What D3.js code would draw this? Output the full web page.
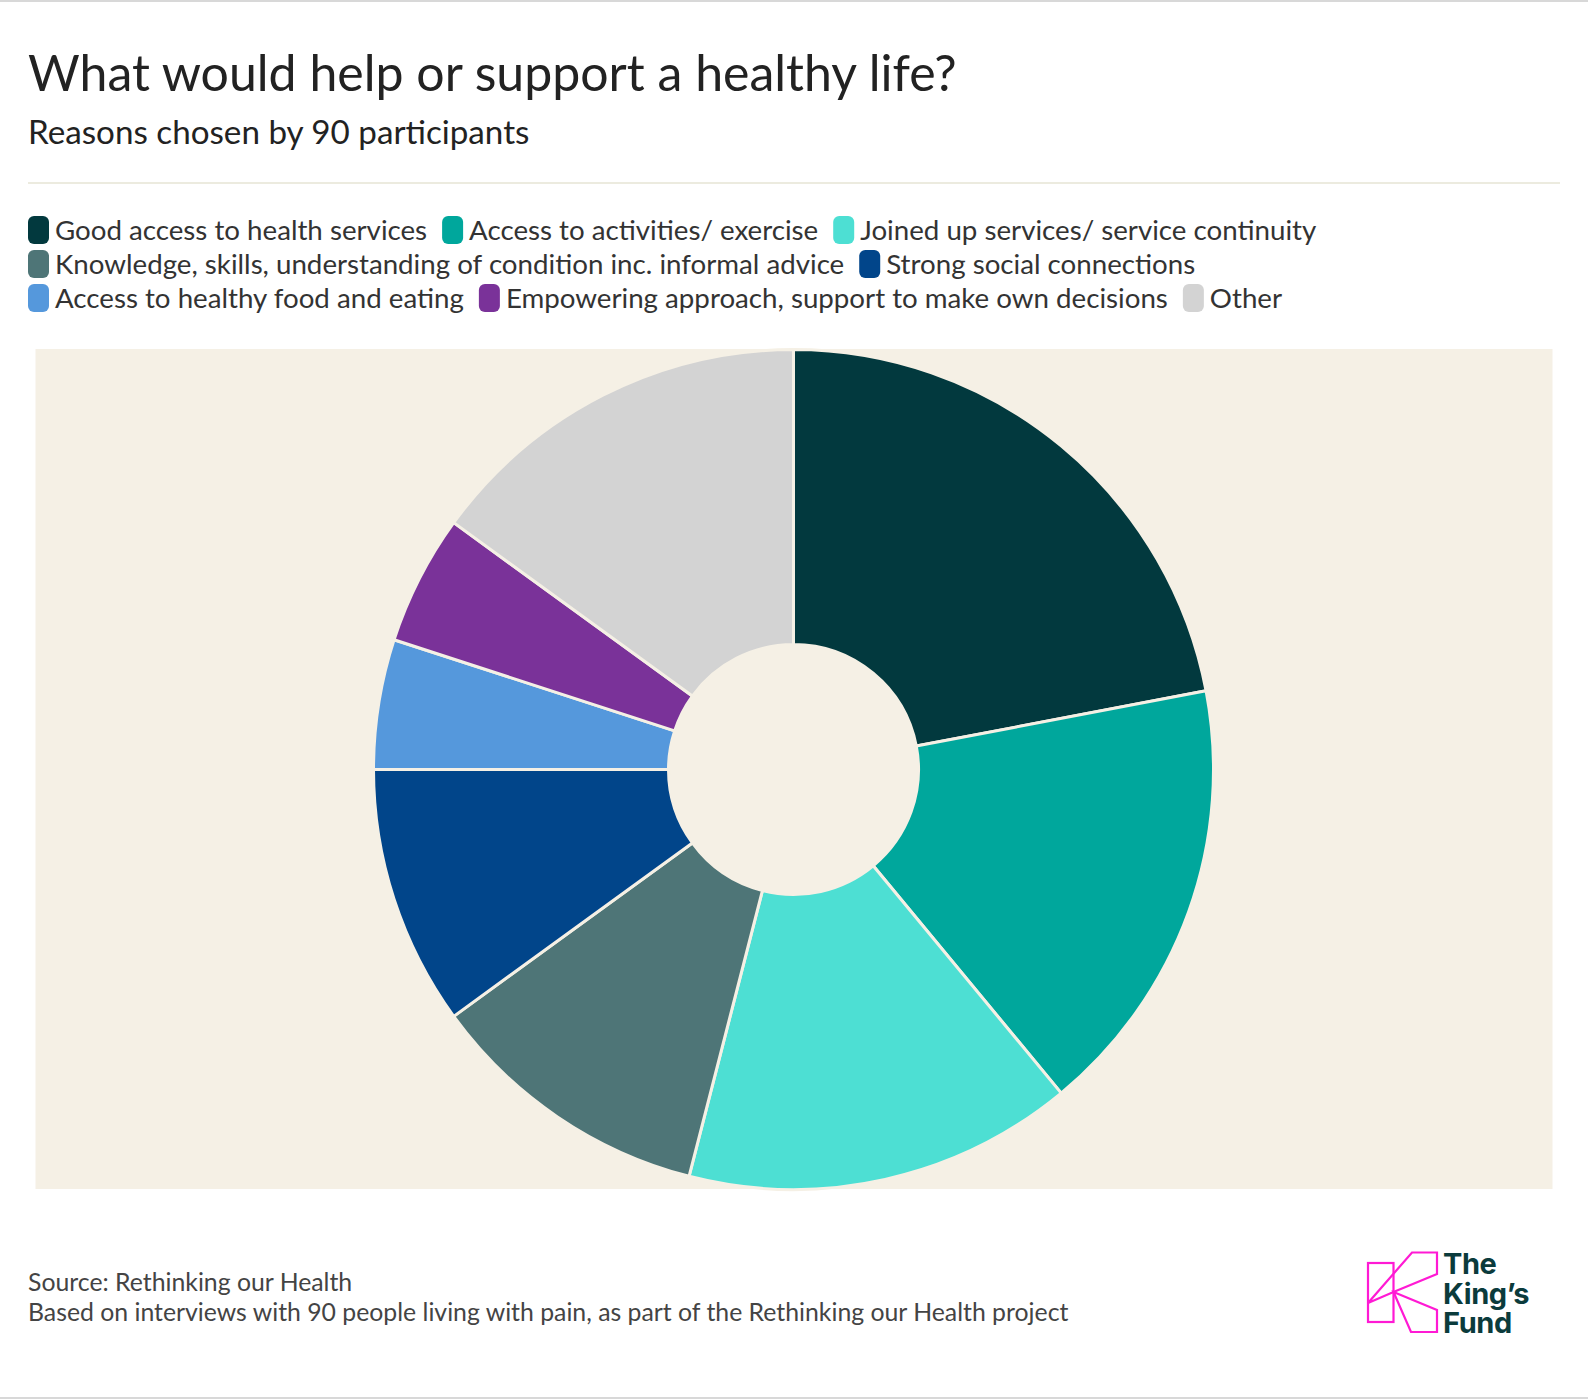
<!DOCTYPE html>
<html><head><meta charset="utf-8">
<script src="https://cdn.jsdelivr.net/npm/d3@7"></script>
<style>
html,body{margin:0;padding:0;background:#fff;}
svg{display:block;font-family:Lato,"Noto Sans",sans-serif;}
</style></head>
<body>
<svg id="chart" width="1588" height="1400"></svg>
<script>
const categories = [
  "Good access to health services",
  "Access to activities/ exercise",
  "Joined up services/ service continuity",
  "Knowledge, skills, understanding of condition inc. informal advice",
  "Strong social connections",
  "Access to healthy food and eating",
  "Empowering approach, support to make own decisions",
  "Other"
];
const values = [22, 17, 15, 11, 10, 5, 5, 15];
const colors = ["#02393e", "#00a79c", "#4ddfd3", "#4e7577", "#01458a", "#5598dc", "#7a3299", "#d3d3d3"];
const logoLines = ["The", "King\u2019s", "Fund"];

const svg = d3.select("#chart");
const W = 1588, H = 1400;

svg.append("line").attr("x1",0).attr("x2",W).attr("y1",1).attr("y2",1).attr("stroke","#d8d8d8").attr("stroke-width",2);
svg.append("line").attr("x1",0).attr("x2",W).attr("y1",H-2).attr("y2",H-2).attr("stroke","#d8d8d8").attr("stroke-width",2);

svg.append("text").attr("x",28).attr("y",91).attr("font-size",50).attr("fill","#222")
  .text("What would help or support a healthy life?");
svg.append("text").attr("x",28).attr("y",144).attr("font-size",33.2).attr("fill","#222")
  .text("Reasons chosen by 90 participants");
svg.append("line").attr("x1",28).attr("x2",1560).attr("y1",183).attr("y2",183)
  .attr("stroke","#ecebdf").attr("stroke-width",2);

// legend
const legend = svg.append("g");
let lx = 28, ly = 230;
const maxX = 1545, fs = 27.7, rowH = 34;
categories.forEach((c,i)=>{
  const g = legend.append("g");
  const t = g.append("text").attr("font-size",fs).attr("fill","#333").attr("dy","0.35em").text(c);
  const tw = t.node().getComputedTextLength();
  const itemW = 27 + tw;
  if (lx + itemW > maxX) { lx = 28; ly += rowH; }
  g.attr("transform",`translate(${lx},${ly})`);
  g.insert("rect","text").attr("x",0).attr("y",-14).attr("width",21).attr("height",28).attr("rx",6).attr("fill",colors[i]);
  t.attr("x",27);
  lx += itemW + 15;
});

// plot background
const bg = {x:35.5, y:349, w:1517, h:840};
svg.append("rect").attr("x",bg.x).attr("y",bg.y).attr("width",bg.w).attr("height",bg.h).attr("fill","#f5f0e5");

const cx = 793.5, cy = 769.5, R = 420, r0 = 125;
const pie = d3.pie().sort(null).value(d=>d);
const arc = d3.arc().innerRadius(r0).outerRadius(R);
svg.append("g").attr("transform",`translate(${cx},${cy})`)
  .selectAll("path").data(pie(values)).join("path")
  .attr("d",arc).attr("fill",(d,i)=>colors[i])
  .attr("stroke","#f5f0e5").attr("stroke-width",3).attr("stroke-linejoin","round");

// footer
svg.append("text").attr("x",28).attr("y",1291).attr("font-size",24.8).attr("fill","#444").text("Source: Rethinking our Health");
svg.append("text").attr("x",28).attr("y",1321).attr("font-size",24.8).attr("fill","#444").text("Based on interviews with 90 people living with pain, as part of the Rethinking our Health project");

// logo
const logo = svg.append("g").attr("fill","none").attr("stroke","#ff1ad4").attr("stroke-width",2.2).attr("stroke-linejoin","miter");
logo.append("rect").attr("x",1368).attr("y",1263).attr("width",25.5).attr("height",59);
logo.append("path").attr("d","M1368,1303 L1412,1252.5 L1437,1252.5 L1437,1274 L1393.5,1292 Z");
logo.append("path").attr("d","M1393.5,1292 L1437,1310 L1437,1332 L1411,1332 Z");
const lt = svg.append("text").attr("font-family","Inter, 'Open Sans', sans-serif").attr("font-weight",700).attr("font-size",29).attr("fill","#0b3b3c").attr("letter-spacing","-0.4");
lt.selectAll("tspan").data(logoLines).join("tspan")
  .attr("x",1443).attr("y",(d,i)=>1274 + i*29.5).text(d=>d);
</script>
</body></html>
